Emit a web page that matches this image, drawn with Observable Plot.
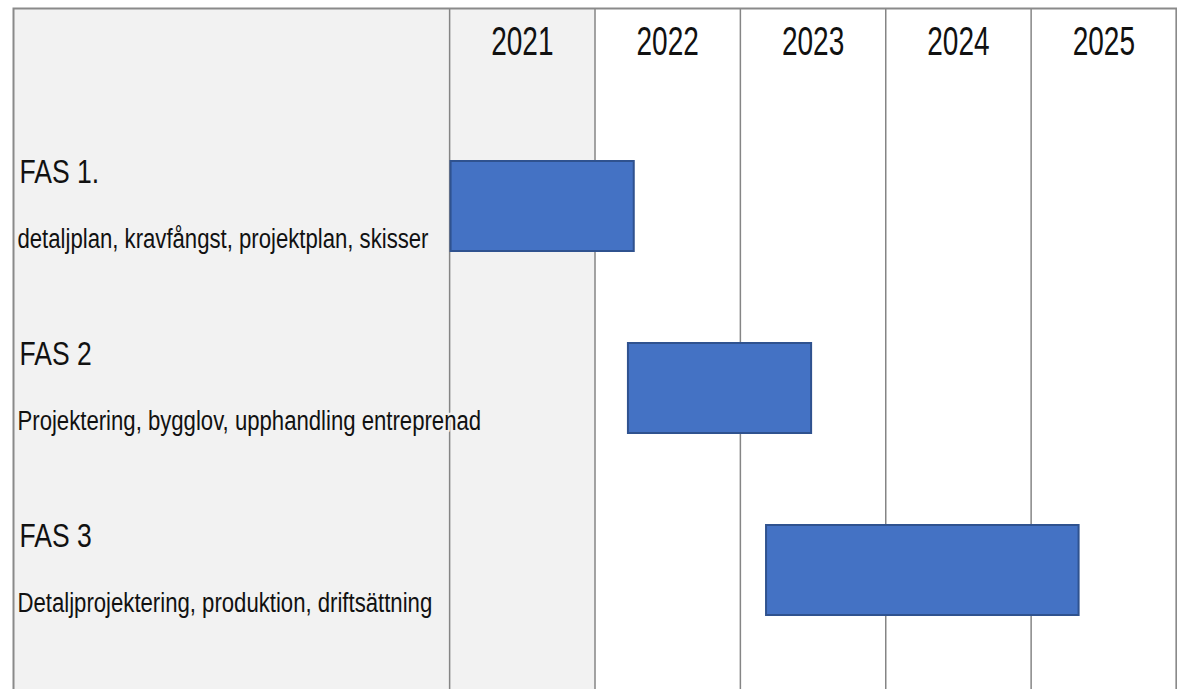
<!DOCTYPE html>
<html>
<head>
<meta charset="utf-8">
<script src="https://cdn.jsdelivr.net/npm/d3@7"></script>
<script src="https://cdn.jsdelivr.net/npm/@observablehq/plot@0.6"></script>
<style>
  html, body { margin: 0; padding: 0; background: #ffffff; overflow: hidden; }
  #chart svg { display: block; }
</style>
</head>
<body>
<div id="chart"></div>
<script>
const phases = ["FAS 1.", "FAS 2", "FAS 3"];
const descriptions = [
  "detaljplan, kravfångst, projektplan, skisser",
  "Projektering, bygglov, upphandling entreprenad",
  "Detaljprojektering, produktion, driftsättning"
];
const starts = [2021.01, 2022.23, 2023.18];
const ends = [2022.27, 2023.49, 2025.33];
const years = [2021, 2022, 2023, 2024, 2025];
const gridYears = [2021, 2022, 2023, 2024, 2025, 2026];

const rows = phases.map((p, i) => ({phase: p, desc: descriptions[i], start: starts[i], end: ends[i]}));
const yearLabels = years.map(String);
const yearCells = years.map((y, i) => ({year: y, label: yearLabels[i]}));

const font = "'Liberation Sans', Arial, sans-serif";

const chart = Plot.plot({
  width: 1177,
  height: 691,
  marginTop: 8,
  marginBottom: 0,
  marginLeft: 13,
  marginRight: 1,
  x: {domain: [2018, 2026], axis: null},
  y: {domain: phases, range: [115, 661], padding: 0, axis: null},
  marks: [
    Plot.rect([{a: 2018, b: 2022}], {x1: "a", x2: "b", fill: "#f2f2f2"}),
    Plot.ruleX(gridYears, {stroke: "#858585", strokeWidth: 1.5}),
    Plot.text(rows, {
      y: "phase", text: "phase", frameAnchor: "left", textAnchor: "start",
      dx: 6, dy: -34, fontSize: 34, fill: "#111", fontFamily: font
    }),
    Plot.text(rows, {
      y: "phase", text: "desc", frameAnchor: "left", textAnchor: "start",
      dx: 4, dy: 33, fontSize: 27, fill: "#111", fontFamily: font,
      stroke: "#f2f2f2", strokeWidth: 5, paintOrder: "stroke"
    }),
    Plot.barX(rows, {
      x1: "start", x2: "end", y: "phase",
      fill: "#4472c4", stroke: "#2f528f", strokeWidth: 2,
      insetTop: 46, insetBottom: 46
    }),
    Plot.text(yearCells, {
      x: d => d.year + 0.5, text: "label", frameAnchor: "top", lineAnchor: "middle",
      dy: 34, fontSize: 40, fill: "#111", fontFamily: font
    }),
    Plot.frame({stroke: "#8a8a8a", strokeWidth: 2})
  ]
});
document.getElementById("chart").appendChild(chart);

// Condense glyphs horizontally to mimic the narrow Calibri-like look of the original.
const groups = [
  {texts: phases, k: 0.78},
  {texts: descriptions, k: 0.82},
  {texts: yearLabels, k: 0.70}
];
chart.querySelectorAll("text").forEach(t => {
  const s = t.textContent;
  const g = groups.find(g => g.texts.includes(s));
  if (!g) return;
  const w = t.getComputedTextLength();
  t.setAttribute("textLength", (w * g.k).toFixed(1));
  t.setAttribute("lengthAdjust", "spacingAndGlyphs");
});
</script>
</body>
</html>
